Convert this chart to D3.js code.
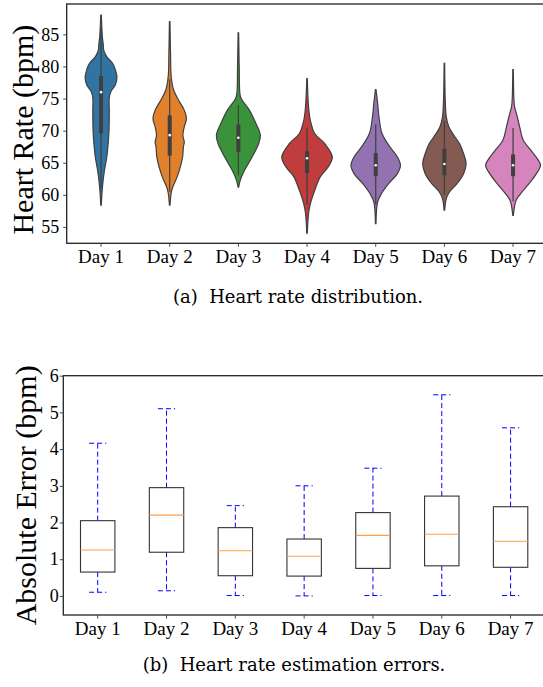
<!DOCTYPE html>
<html>
<head>
<meta charset="utf-8">
<script src="https://cdn.jsdelivr.net/npm/d3@7/dist/d3.min.js"></script>
<style>
    body { margin: 0; background: #fff; }
    svg { display: block; }
    text { font-family: "Liberation Serif", "Times New Roman", serif; fill: #000; }
    .caption { font-family: "DejaVu Serif", serif; white-space: pre; }
</style>
</head>
<body>
<svg id="chart" width="543" height="687"></svg>
<script>
// Categories
const days = ["Day 1", "Day 2", "Day 3", "Day 4", "Day 5", "Day 6", "Day 7"];
const violinColors = ["#3274a1", "#e1812c", "#3a923a", "#c03d3e", "#9372b2", "#845b53", "#d684bd"];

// Heart rate density profiles: [bpm, relative density]
const hrDensity = [
    [[88.0, 0.01], [86, 0.03], [84.5, 0.05], [83.5, 0.08], [82.5, 0.1], [81.5, 0.21], [80.5, 0.42], [79.5, 0.52], [78.3, 0.58], [77.1, 0.52], [76.1, 0.36], [75.1, 0.3], [73, 0.3], [70, 0.29], [68, 0.26], [65.9, 0.21], [63.7, 0.12], [61.6, 0.06], [60, 0.03], [58.4, 0.01]],
    [[87.0, 0.01], [82, 0.03], [78.4, 0.055], [76.3, 0.145], [74.7, 0.33], [73.2, 0.53], [71.9, 0.61], [70.6, 0.53], [69.3, 0.48], [68.2, 0.53], [67.5, 0.5], [65.9, 0.47], [64.4, 0.39], [62.8, 0.27], [61.2, 0.11], [60.3, 0.055], [58.4, 0.01]],
    [[85.25, 0.01], [80, 0.03], [75.8, 0.055], [75.0, 0.1], [73.2, 0.4], [71.1, 0.64], [69.3, 0.8], [68.0, 0.74], [65.9, 0.5], [63.8, 0.22], [62.3, 0.07], [61.2, 0.01]],
    [[78.1, 0.01], [73.7, 0.055], [71.6, 0.12], [69.55, 0.28], [68.0, 0.64], [65.9, 0.92], [64.3, 0.76], [62.8, 0.48], [60.7, 0.28], [58.6, 0.12], [57.1, 0.055], [54.05, 0.01]],
    [[76.4, 0.01], [74.2, 0.07], [72.1, 0.12], [69.55, 0.23], [67.5, 0.51], [65.9, 0.79], [64.6, 0.9], [63.3, 0.79], [61.75, 0.47], [60.2, 0.21], [58.9, 0.07], [55.5, 0.01]],
    [[80.5, 0.01], [75, 0.03], [72.1, 0.07], [70.6, 0.16], [69.3, 0.34], [68.0, 0.55], [66.4, 0.7], [64.9, 0.79], [63.3, 0.7], [61.75, 0.46], [60.4, 0.18], [59.4, 0.07], [57.6, 0.01]],
    [[79.5, 0.01], [75, 0.03], [73.7, 0.055], [72.7, 0.12], [70.6, 0.24], [68.5, 0.37], [67.0, 0.64], [65.65, 0.88], [64.6, 1.0], [63.3, 0.85], [61.75, 0.58], [60.2, 0.28], [59.15, 0.11], [56.8, 0.01]]
];
// Inner box of each violin
const hrQ1 = [69.6, 66.1, 66.7, 63.4, 62.9, 63.05, 62.9];
const hrMedian = [76.0, 69.3, 68.9, 65.7, 64.6, 64.8, 64.6];
const hrQ3 = [78.5, 72.4, 70.95, 66.8, 66.5, 67.2, 66.3];
const hrWhiskerLow = [61, 60.5, 63, 58.5, 58.5, 60, 59];
const hrWhiskerHigh = [86, 78, 74, 70.5, 71, 71.5, 70.4];
const hrTicks = [55, 60, 65, 70, 75, 80, 85];

// Absolute error box plot
const errLow = [0.10, 0.14, 0.01, 0.0, 0.01, 0.01, 0.01];
const errQ1 = [0.65, 1.19, 0.55, 0.54, 0.75, 0.82, 0.78];
const errMedian = [1.25, 2.20, 1.23, 1.08, 1.65, 1.68, 1.49];
const errQ3 = [2.05, 2.95, 1.86, 1.55, 2.27, 2.72, 2.43];
const errHigh = [4.16, 5.10, 2.46, 3.0, 3.48, 5.48, 4.58];
const errTicks = [0, 1, 2, 3, 4, 5, 6];

const serif = '"Liberation Serif", "Times New Roman", serif';
const svg = d3.select("#chart");

// ---------- (a) violins ----------
const frameA = { left: 66.7, right: 547.4, top: 4, bottom: 243.3 };

const xHr = d3.scaleBand().domain(days).range([frameA.left, frameA.right]).padding(0);
const yHr = d3.scaleLinear().domain([52.45, 89.73]).range([frameA.bottom, frameA.top]);
const halfWidth = d3.scaleLinear().domain([0, 1]).range([0, xHr.bandwidth() * 0.4]);

const gTop = svg.append("g");

days.forEach((day, i) => {
    const cx = xHr(day) + xHr.bandwidth() / 2;
    const area = d3.area()
        .y(d => yHr(d[0]))
        .x0(d => cx - halfWidth(d[1]))
        .x1(d => cx + halfWidth(d[1]))
        .curve(d3.curveCatmullRom.alpha(0.5));

    gTop.append("path")
        .datum(hrDensity[i])
        .attr("d", area)
        .attr("fill", violinColors[i])
        .attr("stroke", "#3f3f3f")
        .attr("stroke-width", 1.2);

    // inner box
    gTop.append("line")
        .attr("x1", cx).attr("x2", cx)
        .attr("y1", yHr(hrWhiskerLow[i])).attr("y2", yHr(hrWhiskerHigh[i]))
        .attr("stroke", "#3f3f3f").attr("stroke-width", 1.2);
    gTop.append("rect")
        .attr("x", cx - 2).attr("width", 4)
        .attr("y", yHr(hrQ3[i])).attr("height", yHr(hrQ1[i]) - yHr(hrQ3[i]))
        .attr("fill", "#3f3f3f");
    gTop.append("circle")
        .attr("cx", cx).attr("cy", yHr(hrMedian[i])).attr("r", 1.3)
        .attr("fill", "#fff");
});

// frame
gTop.append("rect")
    .attr("x", frameA.left).attr("y", frameA.top)
    .attr("width", frameA.right - frameA.left).attr("height", frameA.bottom - frameA.top)
    .attr("fill", "none").attr("stroke", "#222").attr("stroke-width", 1.3);

// y axis
const yAxisTop = gTop.append("g")
    .attr("transform", `translate(${frameA.left},0)`)
    .call(d3.axisLeft(yHr).tickValues(hrTicks).tickFormat(d3.format("d")).tickSize(3.5).tickPadding(4));
// x axis
const xAxisTop = gTop.append("g")
    .attr("transform", `translate(0,${frameA.bottom})`)
    .call(d3.axisBottom(xHr).tickSize(3.5).tickPadding(3));

[yAxisTop, xAxisTop].forEach(a => {
    a.attr("font-family", null);
    a.select(".domain").remove();
    a.selectAll(".tick line").attr("stroke", "#444");
    a.selectAll("text").style("font-family", serif).style("font-size", "18px");
});
xAxisTop.selectAll("text").style("font-size", "19px");

gTop.append("text")
    .attr("transform", `translate(33,${(frameA.top + frameA.bottom) / 2 + 6}) rotate(-90)`)
    .attr("text-anchor", "middle")
    .style("font-size", "30px")
    .text("Heart Rate (bpm)");

svg.append("text")
    .attr("class", "caption")
    .attr("x", 298).attr("y", 303)
    .attr("text-anchor", "middle")
    .style("font-size", "18px")
    .text("(a)  Heart rate distribution.");

// ---------- (b) box plot ----------
const frameB = { left: 63.3, right: 545, top: 375.7, bottom: 615 };

const xErr = d3.scaleBand().domain(days).range([frameB.left, frameB.right]).padding(0);
const yErr = d3.scaleLinear().domain([-0.52, 6]).range([frameB.bottom, frameB.top]);

const gBot = svg.append("g");
const boxW = xErr.bandwidth() * 0.5;
const capW = xErr.bandwidth() * 0.25;
const dash = "5,3";

days.forEach((day, i) => {
    const cx = xErr(day) + xErr.bandwidth() / 2;
    const g = gBot.append("g");
    // whiskers
    g.append("line")
        .attr("x1", cx).attr("x2", cx)
        .attr("y1", yErr(errQ3[i])).attr("y2", yErr(errHigh[i]))
        .attr("stroke", "#0000ff").attr("stroke-dasharray", dash);
    g.append("line")
        .attr("x1", cx).attr("x2", cx)
        .attr("y1", yErr(errQ1[i])).attr("y2", yErr(errLow[i]))
        .attr("stroke", "#0000ff").attr("stroke-dasharray", dash);
    // caps
    [errHigh[i], errLow[i]].forEach(v => {
        g.append("line")
            .attr("x1", cx - capW / 2).attr("x2", cx + capW / 2)
            .attr("y1", yErr(v)).attr("y2", yErr(v))
            .attr("stroke", "#0000ff").attr("stroke-dasharray", dash);
    });
    // box
    g.append("rect")
        .attr("x", cx - boxW / 2).attr("width", boxW)
        .attr("y", yErr(errQ3[i])).attr("height", yErr(errQ1[i]) - yErr(errQ3[i]))
        .attr("fill", "none").attr("stroke", "#333").attr("stroke-width", 1.1);
    // median
    g.append("line")
        .attr("x1", cx - boxW / 2).attr("x2", cx + boxW / 2)
        .attr("y1", yErr(errMedian[i])).attr("y2", yErr(errMedian[i]))
        .attr("stroke", "#ffa04a").attr("stroke-width", 1.1);
});

gBot.append("rect")
    .attr("x", frameB.left).attr("y", frameB.top)
    .attr("width", frameB.right - frameB.left).attr("height", frameB.bottom - frameB.top)
    .attr("fill", "none").attr("stroke", "#222").attr("stroke-width", 1.3);

const yAxisBot = gBot.append("g")
    .attr("transform", `translate(${frameB.left},0)`)
    .call(d3.axisLeft(yErr).tickValues(errTicks).tickFormat(d3.format("d")).tickSize(3.5).tickPadding(1));
const xAxisBot = gBot.append("g")
    .attr("transform", `translate(0,${frameB.bottom})`)
    .call(d3.axisBottom(xErr).tickSize(3.5).tickPadding(3));

[yAxisBot, xAxisBot].forEach(a => {
    a.attr("font-family", null);
    a.select(".domain").remove();
    a.selectAll(".tick line").attr("stroke", "#444");
    a.selectAll("text").style("font-family", serif).style("font-size", "18px");
});
xAxisBot.selectAll("text").style("font-size", "19px");

gBot.append("text")
    .attr("transform", `translate(36,${(frameB.top + frameB.bottom) / 2}) rotate(-90)`)
    .attr("text-anchor", "middle")
    .style("font-size", "30px")
    .text("Absolute Error (bpm)");

svg.append("text")
    .attr("class", "caption")
    .attr("x", 294).attr("y", 671)
    .attr("text-anchor", "middle")
    .style("font-size", "18px")
    .text("(b)  Heart rate estimation errors.");
</script>
</body>
</html>
